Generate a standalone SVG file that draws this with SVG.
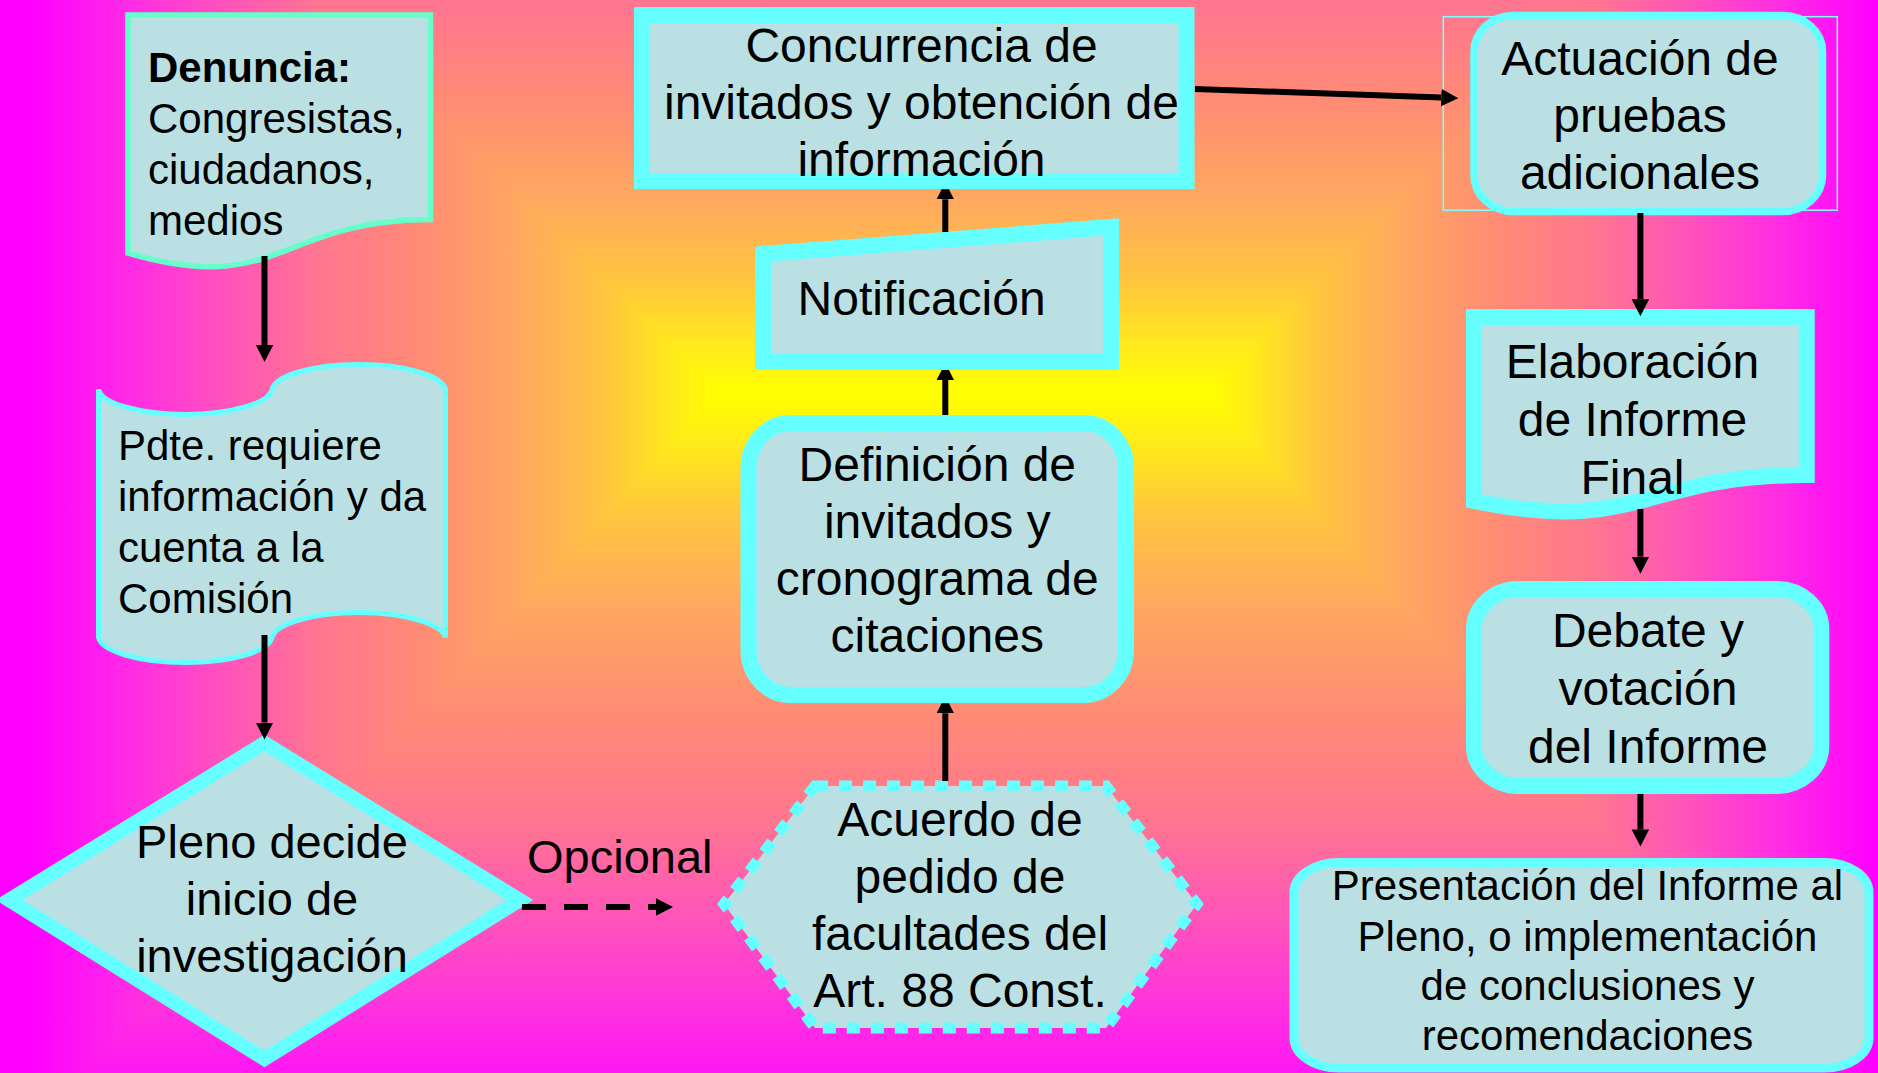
<svg xmlns="http://www.w3.org/2000/svg" width="1878" height="1073" viewBox="0 0 1878 1073">
<defs>
<style>
.bx{fill:#BBE0E3;stroke:#66FFFF;stroke-linejoin:miter}
.t{font-family:"Liberation Sans",Arial,sans-serif;fill:#000}
.s48{font-size:48px}
.s47{font-size:47px}
.s42{font-size:42px}
.m{text-anchor:middle}
.c{fill:none;stroke:#000;stroke-width:6}
</style>
<linearGradient id="gT" gradientUnits="userSpaceOnUse" x1="0" y1="393" x2="0" y2="-278">
<stop offset="0" stop-color="#ffff00"/><stop offset="0.07" stop-color="#ffea1c"/><stop offset="0.17" stop-color="#ffc440"/><stop offset="0.29" stop-color="#ffa860"/><stop offset="0.44" stop-color="#ff8a76"/><stop offset="0.58" stop-color="#ff7690"/><stop offset="0.72" stop-color="#ff52bc"/><stop offset="0.86" stop-color="#ff2ae6"/><stop offset="1" stop-color="#ff00ff"/>
</linearGradient>
<linearGradient id="gB" href="#gT" xlink:href="#gT" xmlns:xlink="http://www.w3.org/1999/xlink" gradientUnits="userSpaceOnUse" x1="0" y1="393" x2="0" y2="1131"/>
<linearGradient id="gL" href="#gT" xlink:href="#gT" xmlns:xlink="http://www.w3.org/1999/xlink" gradientUnits="userSpaceOnUse" x1="720" y1="0" x2="30" y2="0"/>
<linearGradient id="gR" href="#gT" xlink:href="#gT" xmlns:xlink="http://www.w3.org/1999/xlink" gradientUnits="userSpaceOnUse" x1="1207" y1="0" x2="1878" y2="0"/>
<marker id="ah" markerUnits="userSpaceOnUse" markerWidth="18" markerHeight="18" refX="0" refY="9" orient="auto"><path d="M0,0.25 L17,9 L0,17.75 Z" fill="#000"/></marker>
<marker id="ahc" markerUnits="userSpaceOnUse" markerWidth="18" markerHeight="18" refX="0" refY="9" orient="auto"><path d="M0,0.25 L10,5.4 L10,12.6 L0,17.75 Z" fill="#000"/></marker>
</defs>
<g id="background">
<rect x="0" y="0" width="1878" height="1073" fill="#ff00ff"/>
<rect x="0" y="-278" width="1878" height="671" fill="url(#gT)"/>
<rect x="0" y="393" width="1878" height="738" fill="url(#gB)"/>
<polygon points="-10,-278 30,-278 720,393 30,1131 -10,1131" fill="url(#gL)"/>
<polygon points="1207,393 1878,-278 1890,-278 1890,1131 1878,1131" fill="url(#gR)"/>
</g>
<g id="n-denuncia">
<path class="bx" d="M128,15 H430.5 V219.5 C279.3,219.5 279.3,297.4 128,253.2 Z" style="stroke:#66FFCC;stroke-width:5.5"/>
<text class="t s42" x="148" y="82" font-weight="bold">Denuncia:</text>
<text class="t s42" x="148" y="133">Congresistas,</text>
<text class="t s42" x="148" y="184">ciudadanos,</text>
<text class="t s42" x="148" y="235">medios</text>
</g>
<g id="n-pdte">
<path class="bx" d="M98.5,389.5 A87,27 0 0 0 272,389.5 A87,27 0 0 1 445.5,389.5 L445.5,637.5 A87,27 0 0 0 272,637.5 A87,27 0 0 1 98.5,637.5 Z" style="stroke-width:5"/>
<text class="t s42" x="118" y="460">Pdte. requiere</text>
<text class="t s42" x="118" y="511">información y da</text>
<text class="t s42" x="118" y="562">cuenta a la</text>
<text class="t s42" x="118" y="613">Comisión</text>
</g>
<g id="n-pleno">
<polygon class="bx" points="264.5,743 520,900 264.5,1059 9,900" style="stroke-width:14"/>
<text class="t s47 m" x="272" y="858">Pleno decide</text>
<text class="t s47 m" x="272" y="915">inicio de</text>
<text class="t s47 m" x="272" y="972">investigación</text>
</g>
<g id="n-acuerdo">
<polygon class="bx" points="815,786 1106,786 1197,904 1106,1028 815,1028 724,904" style="stroke-width:11;stroke-dasharray:13 11"/>
<text class="t s48 m" x="960" y="836">Acuerdo de</text>
<text class="t s48 m" x="960" y="893">pedido de</text>
<text class="t s48 m" x="960" y="950">facultades del</text>
<text class="t s48 m" x="960" y="1007">Art. 88 Const.</text>
</g>
<g id="n-definicion">
<rect class="bx" x="748.5" y="423" width="377.5" height="272" rx="42" ry="45" style="stroke-width:16"/>
<text class="t s48 m" x="937.3" y="481">Definición de</text>
<text class="t s48 m" x="937.3" y="538">invitados y</text>
<text class="t s48 m" x="937.3" y="595">cronograma de</text>
<text class="t s48 m" x="937.3" y="652">citaciones</text>
</g>
<g id="n-notificacion">
<polygon class="bx" points="763,254 1111,227 1111,362 763,362" style="stroke-width:16"/>
<text class="t s48 m" x="921.6" y="315">Notificación</text>
</g>
<g id="n-concurrencia">
<rect class="bx" x="642" y="15" width="544.5" height="166" style="stroke-width:16"/>
<text class="t s48 m" x="921.5" y="62">Concurrencia de</text>
<text class="t s48 m" x="921.5" y="119">invitados y obtención de</text>
<text class="t s48 m" x="921.5" y="176">información</text>
</g>
<g id="n-actuacion">
<rect x="1443.3" y="16.7" width="394" height="193.5" fill="none" stroke="#80FFFF" stroke-width="1.5"/>
<rect class="bx" x="1474" y="15.5" width="348.5" height="196" rx="40" ry="36" style="stroke-width:7.5"/>
<text class="t s48 m" x="1640" y="75">Actuación de</text>
<text class="t s48 m" x="1640" y="132">pruebas</text>
<text class="t s48 m" x="1640" y="189">adicionales</text>
</g>
<g id="n-elaboracion">
<path class="bx" d="M1474,317 H1806.7 V475 C1640.3,475 1640.3,535.2 1474,501 Z" style="stroke-width:16"/>
<text class="t s48 m" x="1632.5" y="378">Elaboración</text>
<text class="t s48 m" x="1632.5" y="436">de Informe</text>
<text class="t s48 m" x="1632.5" y="494">Final</text>
</g>
<g id="n-debate">
<rect class="bx" x="1474" y="589" width="347.3" height="197" rx="45" ry="40" style="stroke-width:16"/>
<text class="t s48 m" x="1648" y="647">Debate y</text>
<text class="t s48 m" x="1648" y="705">votación</text>
<text class="t s48 m" x="1648" y="763">del Informe</text>
</g>
<g id="n-presentacion">
<rect class="bx" x="1294" y="862.5" width="575" height="205.5" rx="45" ry="30" style="stroke-width:9"/>
<text class="t s42 m" x="1587.5" y="900">Presentación del Informe al</text>
<text class="t s42 m" x="1587.5" y="950.5">Pleno, o implementación</text>
<text class="t s42 m" x="1587.5" y="1000">de conclusiones y</text>
<text class="t s42 m" x="1587.5" y="1050">recomendaciones</text>
</g>
<g id="connectors">
<path class="c" d="M264.5,256 V345" marker-end="url(#ah)"/>
<path class="c" d="M264.5,635 V722.5" marker-end="url(#ah)"/>
<path class="c" d="M522,907 H656" style="stroke-dasharray:24 18" marker-end="url(#ah)"/>
<text class="t s47" x="527" y="873">Opcional</text>
<path class="c" d="M945.3,781 V713.3" marker-end="url(#ahc)"/>
<path class="c" d="M945.3,415 V380" marker-end="url(#ahc)"/>
<path class="c" d="M945.3,232 V199.3" marker-end="url(#ahc)"/>
<path class="c" d="M1195,89 L1441.3,97.6" marker-end="url(#ah)"/>
<path class="c" d="M1640.4,213 V299.3" marker-end="url(#ah)"/>
<path class="c" d="M1640.4,509 V556.7" marker-end="url(#ah)"/>
<path class="c" d="M1640.4,794 V829.4" marker-end="url(#ah)"/>
</g>
</svg>
